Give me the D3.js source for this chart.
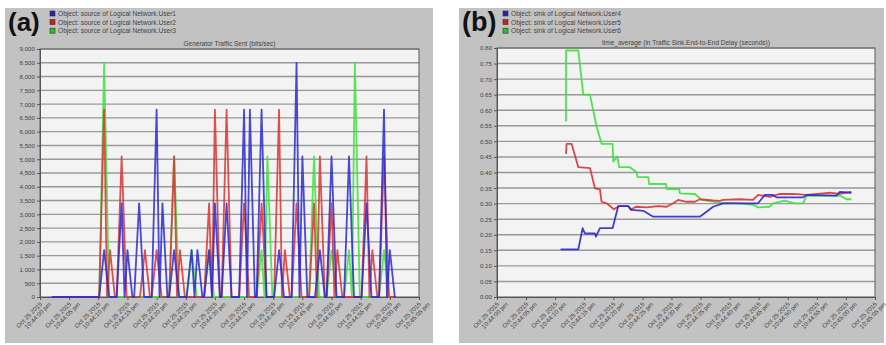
<!DOCTYPE html>
<html><head><meta charset="utf-8">
<script src="https://cdn.jsdelivr.net/npm/d3@7"></script>
<style>body{margin:0;background:#fff}text{font-family:"Liberation Sans",Arial,sans-serif}</style>
</head><body><svg id="c" width="886" height="345"></svg>
<script>
// ---------- shared axis data ----------
const tickSeconds = [0,5,10,15,20,25,30,35,40,45,50,55,60,65];
const tickDate = "Oct 25 2015";
const tickTimes = ["10:44:00 pm","10:44:05 pm","10:44:10 pm","10:44:15 pm","10:44:20 pm","10:44:25 pm","10:44:30 pm","10:44:35 pm","10:44:40 pm","10:44:45 pm","10:44:50 pm","10:44:55 pm","10:45:00 pm","10:45:05 pm"];

// ---------- panel (a): Generator Traffic Sent (bits/sec) ----------
const aTitle = "Generator Traffic Sent (bits/sec)";
const aLegend = ["Object: source of Logical Network.User1","Object: source of Logical Network.User2","Object: source of Logical Network.User3"];
const aYTicks = [0,500,1000,1500,2000,2500,3000,3500,4000,4500,5000,5500,6000,6500,7000,7500,8000,8500,9000];
const aStart = 2, aEnd = 61;
// spike events (second, bits/sec); the series rests at 0 between spikes
const user1Times  = [11,14,15,17,20,21,23,26,27,29,30,32,35,36,38,41,44,45,48,50,53,56,59,60];
const user1Values = [1700,3400,1700,3400,6800,3400,1700,1700,1700,1700,3400,3400,6800,6800,6800,1700,8500,5100,1700,5100,5100,3400,6800,1700];
const user2Times  = [11,12,14,18,20,23,24,29,30,32,35,38,41,42,44,47,48,50,51,56,57,59];
const user2Values = [6800,1700,5100,1700,1700,5100,1700,3400,6800,6800,3400,3400,6800,1700,3400,3400,5100,3400,1700,5100,1700,5100];
const user3Times  = [11,23,26,29,38,39,47,50,53,54,59];
const user3Values = [8500,5100,1700,1700,1700,5100,5100,1700,1700,8500,1700];

// ---------- panel (b): time_average (End-to-End Delay) ----------
const bTitle = "time_average (in Traffic Sink.End-to-End Delay (seconds))";
const bLegend = ["Object: sink of Logical Network.User4","Object: sink of Logical Network.User5","Object: sink of Logical Network.User6"];
const bYTicks = [0,0.05,0.10,0.15,0.20,0.25,0.30,0.35,0.40,0.45,0.50,0.55,0.60,0.65,0.70,0.75,0.80];
const user4Times  = [10.94,13.98,14.72,15.12,16.84,17.01,17.70,19.87,20.85,22.56,23.14,25.15,26.86,34.88,37.17,38.89,44.90,46.05,47.48,48.05,52.63,53.21,58.36,58.94,60.94];
const user4Values = [0.153,0.153,0.221,0.204,0.204,0.194,0.221,0.221,0.292,0.292,0.280,0.277,0.258,0.258,0.290,0.301,0.301,0.328,0.328,0.320,0.320,0.328,0.326,0.338,0.335];
const user5Times  = [11.86,11.97,12.83,13.98,16.00,16.84,17.70,17.98,18.84,20.10,21.02,22.56,22.97,23.88,25.72,27.72,29.15,30.30,31.15,32.59,34.02,34.88,37.17,38.32,38.89,41.75,44.04,44.90,46.91,48.63,50.92,53.21,56.07,57.22,58.94,60.94];
const user5Values = [0.460,0.492,0.492,0.417,0.414,0.349,0.346,0.306,0.301,0.282,0.292,0.292,0.280,0.290,0.288,0.292,0.290,0.301,0.312,0.306,0.306,0.314,0.310,0.309,0.312,0.314,0.312,0.328,0.322,0.331,0.331,0.328,0.333,0.335,0.331,0.338];
const user6Times  = [11.86,11.87,13.98,14.83,15.98,17.12,17.98,19.87,19.99,20.67,21.02,22.85,24.00,24.17,26.00,26.17,29.04,29.15,31.33,31.44,34.02,35.17,38.32,41.75,44.04,44.90,46.91,47.48,49.48,51.20,52.63,53.21,58.94,60.08,60.94];
const user6Values = [0.564,0.792,0.792,0.650,0.650,0.548,0.492,0.492,0.435,0.451,0.417,0.417,0.401,0.385,0.385,0.363,0.363,0.347,0.347,0.333,0.331,0.312,0.303,0.301,0.296,0.288,0.290,0.301,0.310,0.301,0.301,0.325,0.326,0.314,0.314];

const colors = {blue:"#2a2ad0", red:"#d83434", green:"#3ee03e"};
const legendColors = ["#2323b8","#c42323","#22c422"];

const svg = d3.select("#c");

function panel(cfg){
  const g = svg.append("g");
  g.append("rect").attr("x",cfg.px).attr("y",8).attr("width",cfg.pw).attr("height",335).attr("fill","#c2c2c2");
  g.append("text").attr("x",cfg.px+3).attr("y",31).attr("font-size",cfg.labelSize).attr("font-weight","bold").attr("fill","#111").text(cfg.label);
  cfg.legend.forEach((s,i)=>{
    const y = 14 + i*8.6;
    g.append("rect").attr("x",cfg.lx).attr("y",y-3).attr("width",5).attr("height",5).attr("fill",legendColors[i]).attr("stroke","#333").attr("stroke-width",0.6);
    g.append("text").attr("x",cfg.lx+8).attr("y",y+2).attr("font-size",6.6).attr("fill","#444").text(s);
  });
  const x = d3.scaleLinear().domain([0,65]).range([cfg.x0,cfg.x1]);
  const y = d3.scaleLinear().domain(cfg.yDomain).range([cfg.y1,cfg.y0]);
  g.append("text").attr("x",(cfg.x0+cfg.x1)/2).attr("y",cfg.y0-3).attr("text-anchor","middle").attr("font-size",6.5).attr("fill","#444").text(cfg.title);
  g.append("rect").attr("x",cfg.x0).attr("y",cfg.y0).attr("width",cfg.x1-cfg.x0).attr("height",cfg.y1-cfg.y0).attr("fill","#f3f3f3");
  // grid
  g.append("g").selectAll("line").data(cfg.yTicks.slice(1)).join("line")
    .attr("x1",cfg.x0).attr("x2",cfg.x1).attr("y1",d=>y(d)).attr("y2",d=>y(d))
    .attr("stroke","#999").attr("stroke-width",1.4);
  // frame
  g.append("rect").attr("x",cfg.x0).attr("y",cfg.y0).attr("width",cfg.x1-cfg.x0).attr("height",cfg.y1-cfg.y0).attr("fill","none").attr("stroke","#707070").attr("stroke-width",1.2);
  // y axis
  const ya = g.append("g").attr("transform",`translate(${cfg.x0},0)`).call(d3.axisLeft(y).tickValues(cfg.yTicks).tickFormat(cfg.yFormat).tickSize(3).tickPadding(2));
  ya.select(".domain").attr("stroke","#555");
  ya.selectAll(".tick line").attr("stroke","#555");
  ya.selectAll("text").attr("font-size",6.2).attr("fill","#444").attr("font-family","Liberation Sans, Arial, sans-serif");
  // x axis
  const xa = g.append("g").attr("transform",`translate(0,${cfg.y1})`).call(d3.axisBottom(x).tickValues(tickSeconds).tickFormat("").tickSize(3));
  xa.select(".domain").attr("stroke","#555");
  xa.selectAll(".tick line").attr("stroke","#555");
  tickSeconds.forEach((s,i)=>{
    const t = g.append("text").attr("transform",`translate(${x(s)+1},${cfg.y1+6}) rotate(-45)`)
      .attr("text-anchor","end").attr("font-size",6.2).attr("fill","#444");
    t.append("tspan").attr("x",0).attr("dy","0.35em").text(tickDate);
    t.append("tspan").attr("x",6).attr("dy","1.05em").text(tickTimes[i]);
  });
  return {g,x,y};
}

// panel a
const A = panel({px:5,pw:428,label:"(a)",labelSize:26,lx:50,legend:aLegend,title:aTitle,
  x0:40,x1:419,y0:49,y1:297,yDomain:[0,9000],yTicks:aYTicks,yFormat:d3.format(",")});
const halfWidth = 0.85;
function spikes(times,values){
  const pts=[[aStart,0]];
  times.forEach((t,i)=>{
    const lo = i>0 ? Math.max(t-halfWidth,(times[i-1]+t)/2) : t-halfWidth;
    const hi = i<times.length-1 ? Math.min(t+halfWidth,(times[i+1]+t)/2) : t+halfWidth;
    pts.push([lo,0],[t,values[i]],[hi,0]);
  });
  pts.push([aEnd,0]);
  return pts;
}
const lineA = d3.line().x(d=>A.x(d[0])).y(d=>A.y(d[1]));
[[user3Times,user3Values,colors.green],[user2Times,user2Values,colors.red],[user1Times,user1Values,colors.blue]].forEach(([t,v,c])=>{
  A.g.append("path").attr("d",lineA(spikes(t,v))).attr("fill","none").attr("stroke",c).attr("stroke-width",1.8).attr("stroke-opacity",0.85).attr("stroke-linejoin","round");
});

// panel b
const B = panel({px:459,pw:425,label:"(b)",labelSize:27,lx:503,legend:bLegend,title:bTitle,
  x0:497,x1:875,y0:48,y1:297,yDomain:[0,0.8],yTicks:bYTicks,yFormat:d3.format(".2f")});
const lineB = d3.line().x(d=>B.x(d[0])).y(d=>B.y(d[1]));
[[user6Times,user6Values,colors.green],[user5Times,user5Values,colors.red],[user4Times,user4Values,colors.blue]].forEach(([t,v,c])=>{
  const pts = t.map((tt,i)=>[tt,v[i]]);
  B.g.append("path").attr("d",lineB(pts)).attr("fill","none").attr("stroke",c).attr("stroke-width",1.8).attr("stroke-opacity",0.9).attr("stroke-linejoin","round");
});
</script></body></html>
